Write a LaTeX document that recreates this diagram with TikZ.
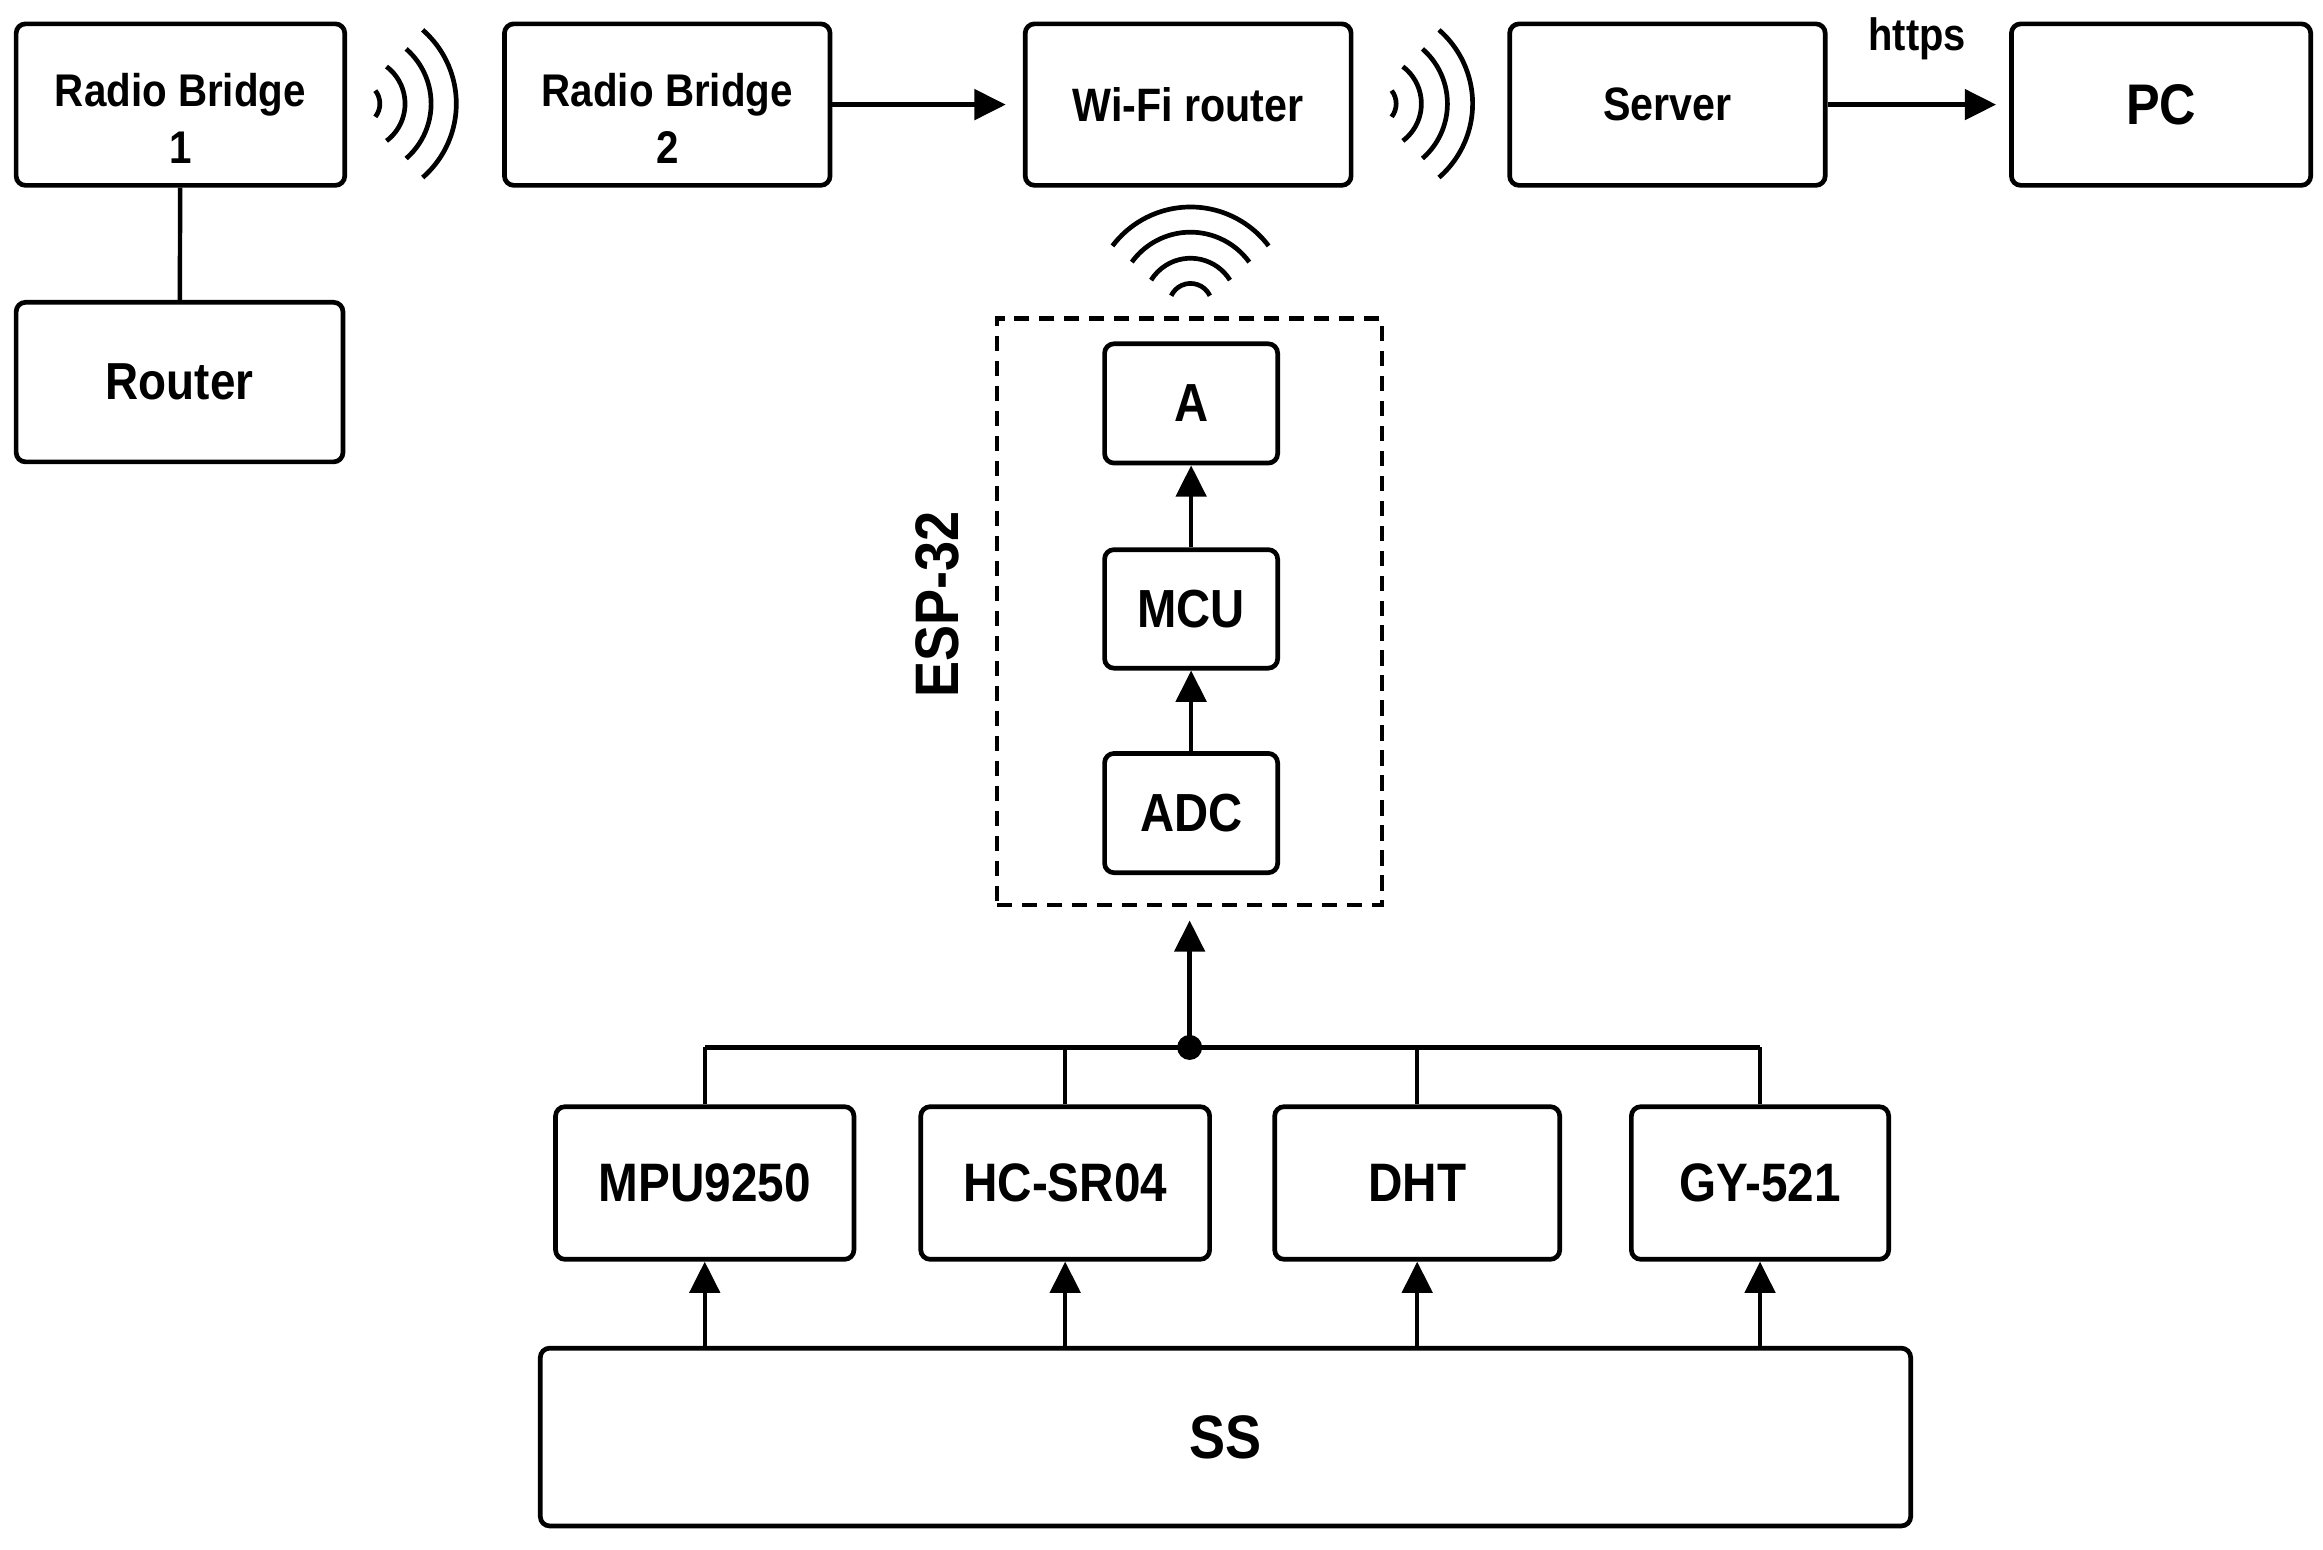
\documentclass[tikz,border=0pt]{standalone}
\usepackage{fontspec}
\setmainfont{Liberation Sans}[FakeStretch=0.88]
\usetikzlibrary{arrows.meta,calc}
\newcommand\fsz[2]{\fontsize{#1}{#2}\selectfont\bfseries}
\begin{document}
\begin{tikzpicture}[x=0.1mm,y=-0.1mm,
  box/.style={draw, line width=0.9pt, rounded corners=1.8pt, inner sep=0pt, align=center},
  lbl/.style={inner sep=0pt, align=center},
  conn/.style={line width=0.85pt},
  arr/.style={line width=0.85pt, -{Triangle[length=6pt,width=5.8pt]}},
  wave/.style={line width=0.9pt},
  topbox/.style={box, minimum height=10.9mm}
]
\fill[white] (0,0) rectangle (1568,1046);
\useasboundingbox (0,0) rectangle (1568,1046);

% top row
\node[topbox, minimum width=22.18mm] (rb1) at (121.8,70.6) {};
\node[lbl, font=\fsz{8.8}{11}] (rb1t) at (121.8,80) {Radio Bridge\\1};
\node[box, minimum width=22.06mm, minimum height=10.77mm, font=\fsz{10}{12}] (router) at (121.2,257.9) {Router};
\node[topbox, minimum width=21.98mm] (rb2) at (450.4,70.6) {};
\node[lbl, font=\fsz{8.8}{11}] (rb2t) at (450.4,80) {Radio Bridge\\2};
\node[topbox, minimum width=22mm, font=\fsz{9}{11}] (wifi) at (802,70.6) {Wi-Fi router};
\node[topbox, minimum width=21.3mm, font=\fsz{9}{11}] (server) at (1125.5,70.6) {Server};
\node[topbox, minimum width=20.2mm, font=\fsz{11}{13}] (pc) at (1458.7,70.6) {PC};
\node[lbl, anchor=base, font=\fsz{8.7}{10}] (https) at (1294,34) {https};

% ESP-32 group
\node[draw, line width=0.85pt, dash pattern=on 2.9pt off 1.9pt, minimum width=26mm, minimum height=39.6mm, inner sep=0pt] (esp) at (803,413) {};
\node[box, minimum width=11.68mm, minimum height=8.05mm, font=\fsz{10.3}{12}] (a) at (804,272.3) {A};
\node[box, minimum width=11.68mm, minimum height=8mm, font=\fsz{10.3}{12}] (mcu) at (804,411) {MCU};
\node[box, minimum width=11.68mm, minimum height=8.05mm, font=\fsz{10.3}{12}] (adc) at (804,548.8) {ADC};
\node[lbl, rotate=90, font=\fsz{11.8}{14}] (esplbl) at (632.8,408) {ESP-32};

% sensors
\node[box, minimum width=20.14mm, minimum height=10.3mm, font=\fsz{10.4}{12}] (mpu) at (475.7,798.5) {MPU9250};
\node[box, minimum width=19.5mm, minimum height=10.3mm, font=\fsz{10.4}{12}] (hc) at (719,798.5) {HC-SR04};
\node[box, minimum width=19.24mm, minimum height=10.3mm, font=\fsz{10.4}{12}] (dht) at (956.6,798.5) {DHT};
\node[box, minimum width=17.37mm, minimum height=10.3mm, font=\fsz{10.4}{12}] (gy) at (1188,798.5) {GY-521};
\node[box, minimum width=92.5mm, minimum height=12mm, font=\fsz{11.8}{14}] (ss) at (827.2,970) {SS};

% connectors
\draw[conn] (rb1) -- (router);
\draw[arr, shorten >=3.3pt] (rb2) -- (wifi);
\draw[arr, shorten >=2.5pt] (server) -- (pc);
\draw[arr] (adc) -- (mcu);
\draw[arr] (mcu) -- (a);

\coordinate (j) at (803,707);
\draw[conn, line width=1pt] (mpu.north |- j) -- (gy.north |- j);
\foreach \s in {mpu,hc,dht,gy} \draw[conn] (\s.north) -- (\s.north |- j);
\fill (j) circle[radius=2.4pt];
\draw[arr, shorten >=2.5pt] (j) -- (esp.south);
\foreach \s in {mpu,hc,dht,gy} \draw[arr] (ss.north -| \s) -- (\s.south);

% wireless symbols
\coordinate (w1) at (242,70);
\coordinate (w2) at (928,70);
\coordinate (w3) at (803.6,205.7);
\foreach \c in {w1,w2}{
  \draw[wave] ([shift={(-38:1.44mm)}]\c) arc[start angle=-38,end angle=38,radius=1.44mm];
  \draw[wave] ([shift={(-53:3.14mm)}]\c) arc[start angle=-53,end angle=53,radius=3.14mm];
  \draw[wave] ([shift={(-49:4.9mm)}]\c) arc[start angle=-49,end angle=49,radius=4.9mm];
  \draw[wave] ([shift={(-49:6.6mm)}]\c) arc[start angle=-49,end angle=49,radius=6.6mm];
}
\draw[wave] ([shift={(25:1.44mm)}]w3) arc[start angle=25,end angle=155,radius=1.44mm];
\draw[wave] ([shift={(32:3.14mm)}]w3) arc[start angle=32,end angle=148,radius=3.14mm];
\draw[wave] ([shift={(36:4.9mm)}]w3) arc[start angle=36,end angle=144,radius=4.9mm];
\draw[wave] ([shift={(37:6.6mm)}]w3) arc[start angle=37,end angle=143,radius=6.6mm];
\end{tikzpicture}
\end{document}
